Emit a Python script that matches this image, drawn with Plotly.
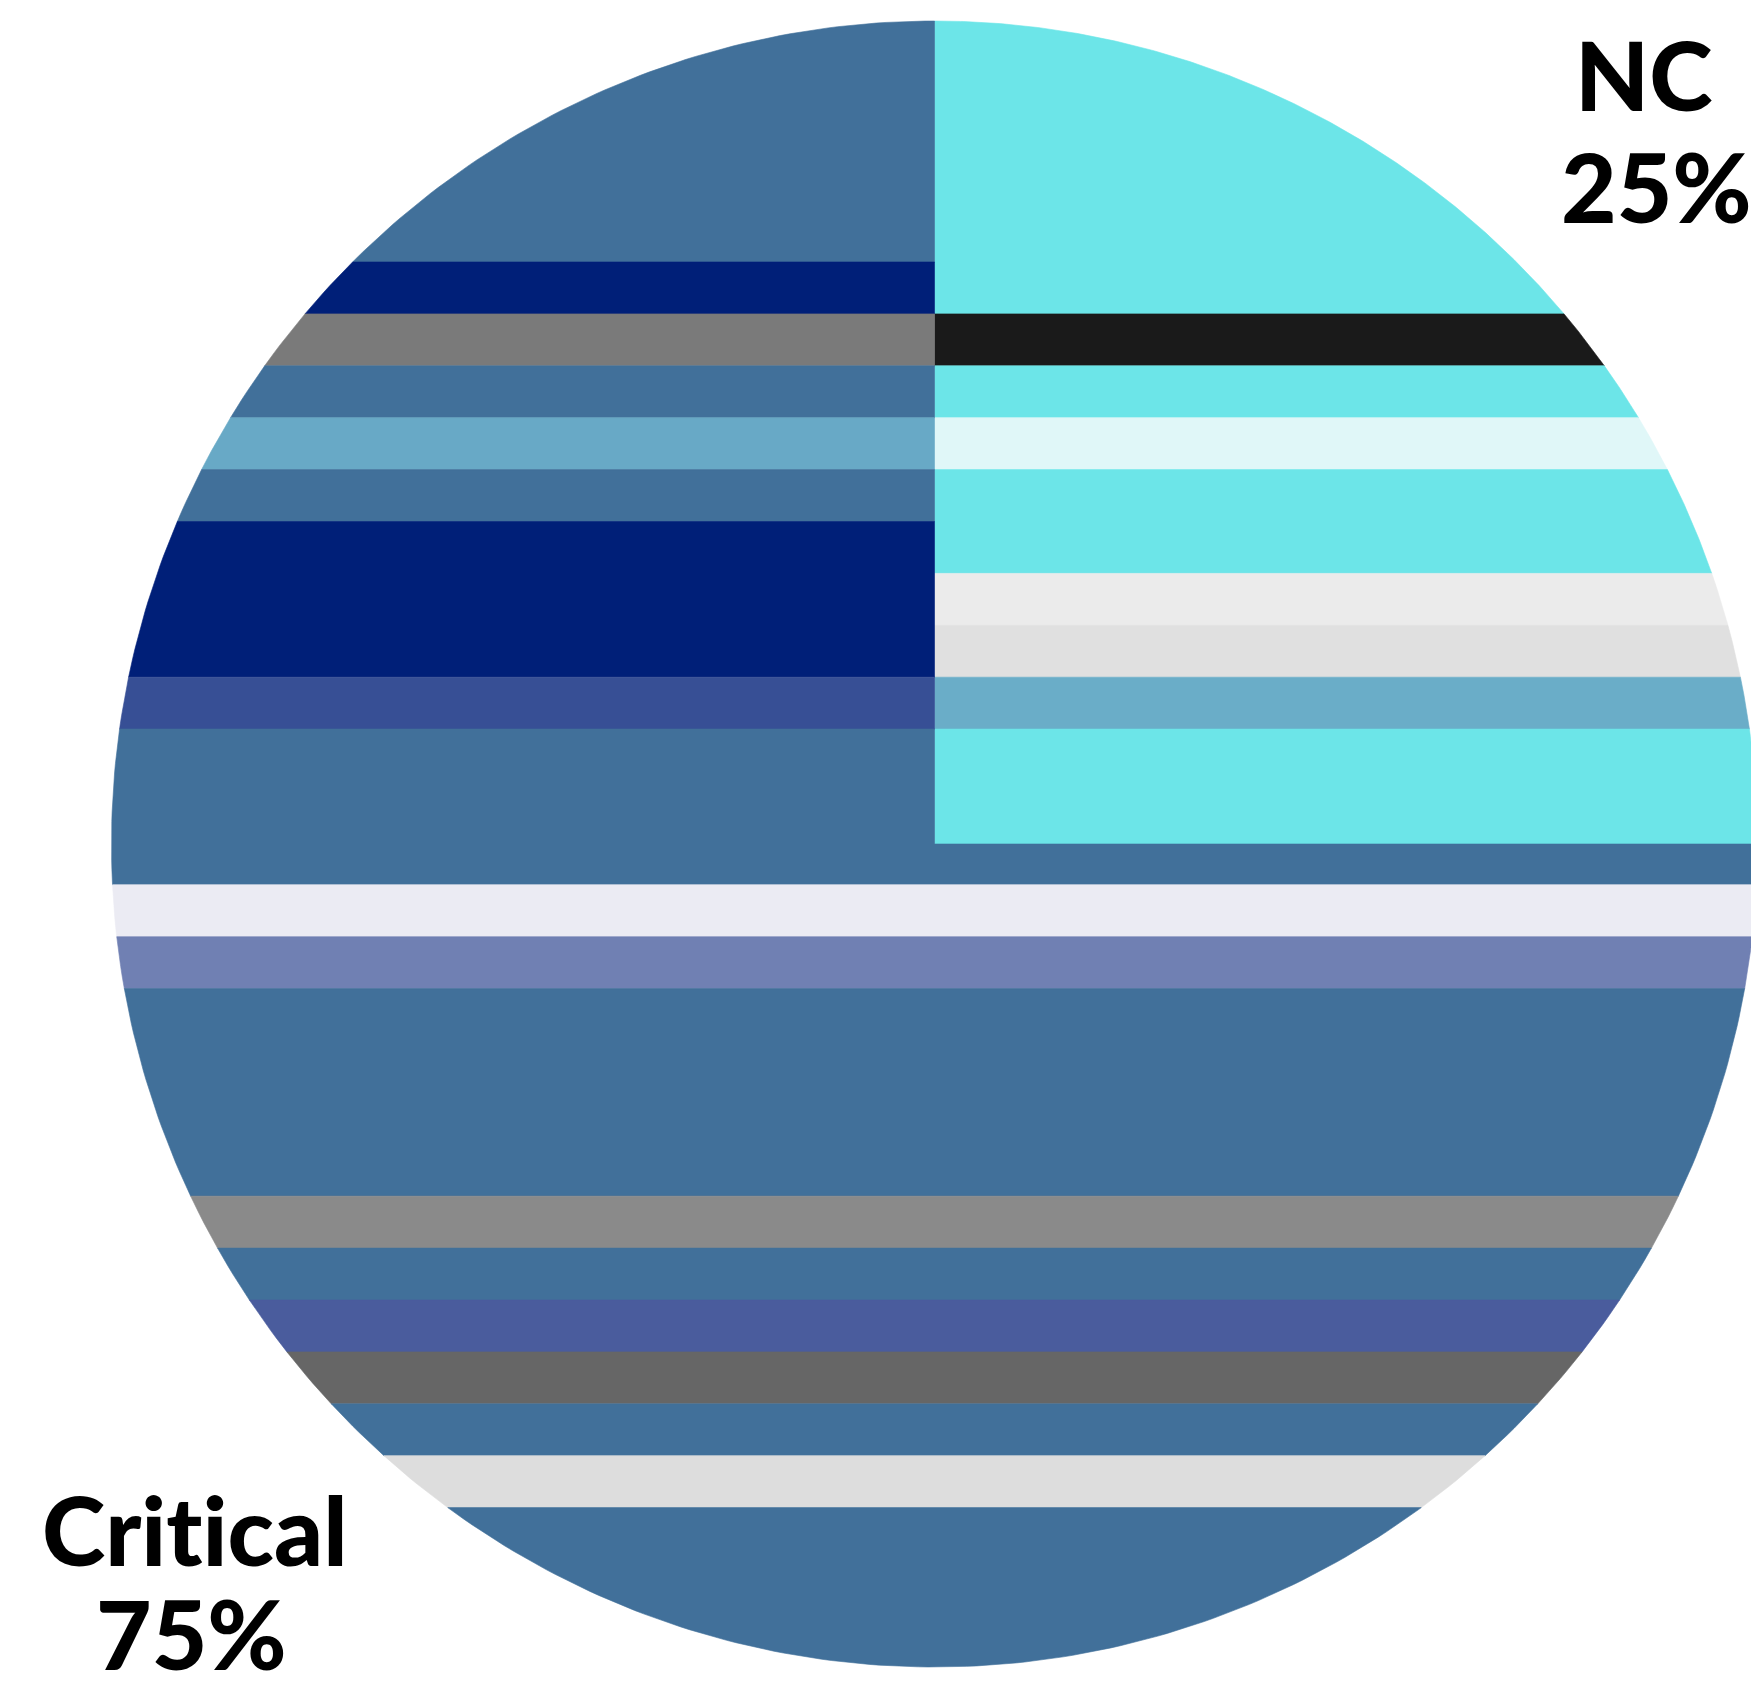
import math
import plotly.graph_objects as go

# ---- data ----
slice_labels = ["NC", "Critical"]
slice_values = [25, 75]
label_texts = ["NC", "Crit\u200cical"]
pct_texts = ["25%", "75%"]

# stripe colours, one per row from the top of the pie
nc_rows = ["#6ce5e8"] * 6 + ["#1a1a1a", "#6ce5e8", "#e0f7f8", "#6ce5e8", "#6ce5e8",
           "#ebebeb", "#e0e0e0", "#6aadc8", "#6ce5e8", "#6ce5e8", "#6ce5e8"]
critical_rows = (["#41709a"] * 5 + ["#001f78", "#7a7a7a", "#41709a", "#68a9c6", "#41709a",
                 "#001f78", "#001f78", "#001f78", "#374f95", "#41709a", "#41709a", "#41709a",
                 "#ebebf3", "#7080b3", "#41709a", "#41709a", "#41709a", "#41709a",
                 "#8a8a8a", "#41709a", "#4a5c9d", "#666666", "#41709a", "#dddddd"]
                 + ["#41709a"] * 4)
slice_rows = [nc_rows, critical_rows]

# ---- geometry / style ----
OFF = 8                                   # page body margin
W, H = 1759, 1690
CX, CY, R = 934.5 - OFF, 844.0 - OFF, 823.0   # pixels inside the figure
ROW_H = 51.9 / R
ROW0_TOP = (CY - (2.5 - OFF)) / R


def sector_polygon(a0, a1, n=400):
    pts = [(0.0, 0.0)]
    for i in range(n + 1):
        a = math.radians(a0 + (a1 - a0) * i / n)
        pts.append((math.cos(a), math.sin(a)))
    return pts


def clip(poly, yv, keep_above):
    out = []
    m = len(poly)
    for i in range(m):
        p, q = poly[i], poly[(i + 1) % m]
        pin = (p[1] >= yv) if keep_above else (p[1] <= yv)
        qin = (q[1] >= yv) if keep_above else (q[1] <= yv)
        if pin:
            out.append(p)
        if pin != qin:
            t = (yv - p[1]) / (q[1] - p[1])
            out.append((p[0] + t * (q[0] - p[0]), yv))
    return out


fig = go.Figure()
total = sum(slice_values)
start = 90.0
for lab, val, rows in zip(slice_labels, slice_values, slice_rows):
    end = start - 360.0 * val / total
    sec = sector_polygon(end, start)
    k = 0
    while k < len(rows):
        j = k
        while j + 1 < len(rows) and rows[j + 1] == rows[k]:
            j += 1
        ytop = ROW0_TOP - k * ROW_H
        ybot = ROW0_TOP - (j + 1) * ROW_H
        poly = clip(clip(sec, ytop, False), ybot, True)
        if len(poly) >= 3:
            xs = [p[0] for p in poly] + [poly[0][0]]
            ys = [p[1] for p in poly] + [poly[0][1]]
            fig.add_trace(go.Scatter(x=xs, y=ys, mode="lines", fill="toself",
                                     fillcolor=rows[k], line=dict(color=rows[k], width=0.6),
                                     hoverinfo="skip", showlegend=False, name=lab))
        k = j + 1
    start = end

xr = [(0 - CX) / R, (W - CX) / R]
yr = [-(H - CY) / R, CY / R]
fig.update_xaxes(range=xr, visible=False, fixedrange=True)
fig.update_yaxes(range=yr, visible=False, fixedrange=True)

font = dict(family="Lato, Inter, sans-serif", size=96, color="#000000", weight=900)
label_pos = [((1644, 74), (1656, 185)), ((195, 1528), (191, 1632))]
for ((x1, y1), (x2, y2)), t1, t2 in zip(label_pos, label_texts, pct_texts):
    for px, py, t in ((x1, y1, t1), (x2, y2, t2)):
        fig.add_annotation(x=(px - OFF) / W, y=1 - (py - OFF) / H, xref="paper", yref="paper",
                           text=t, showarrow=False, font=font,
                           xanchor="center", yanchor="middle")

fig.update_layout(width=W, height=H, margin=dict(l=0, r=0, t=0, b=0),
                  paper_bgcolor="white", plot_bgcolor="white")
fig.write_html("out.html")
